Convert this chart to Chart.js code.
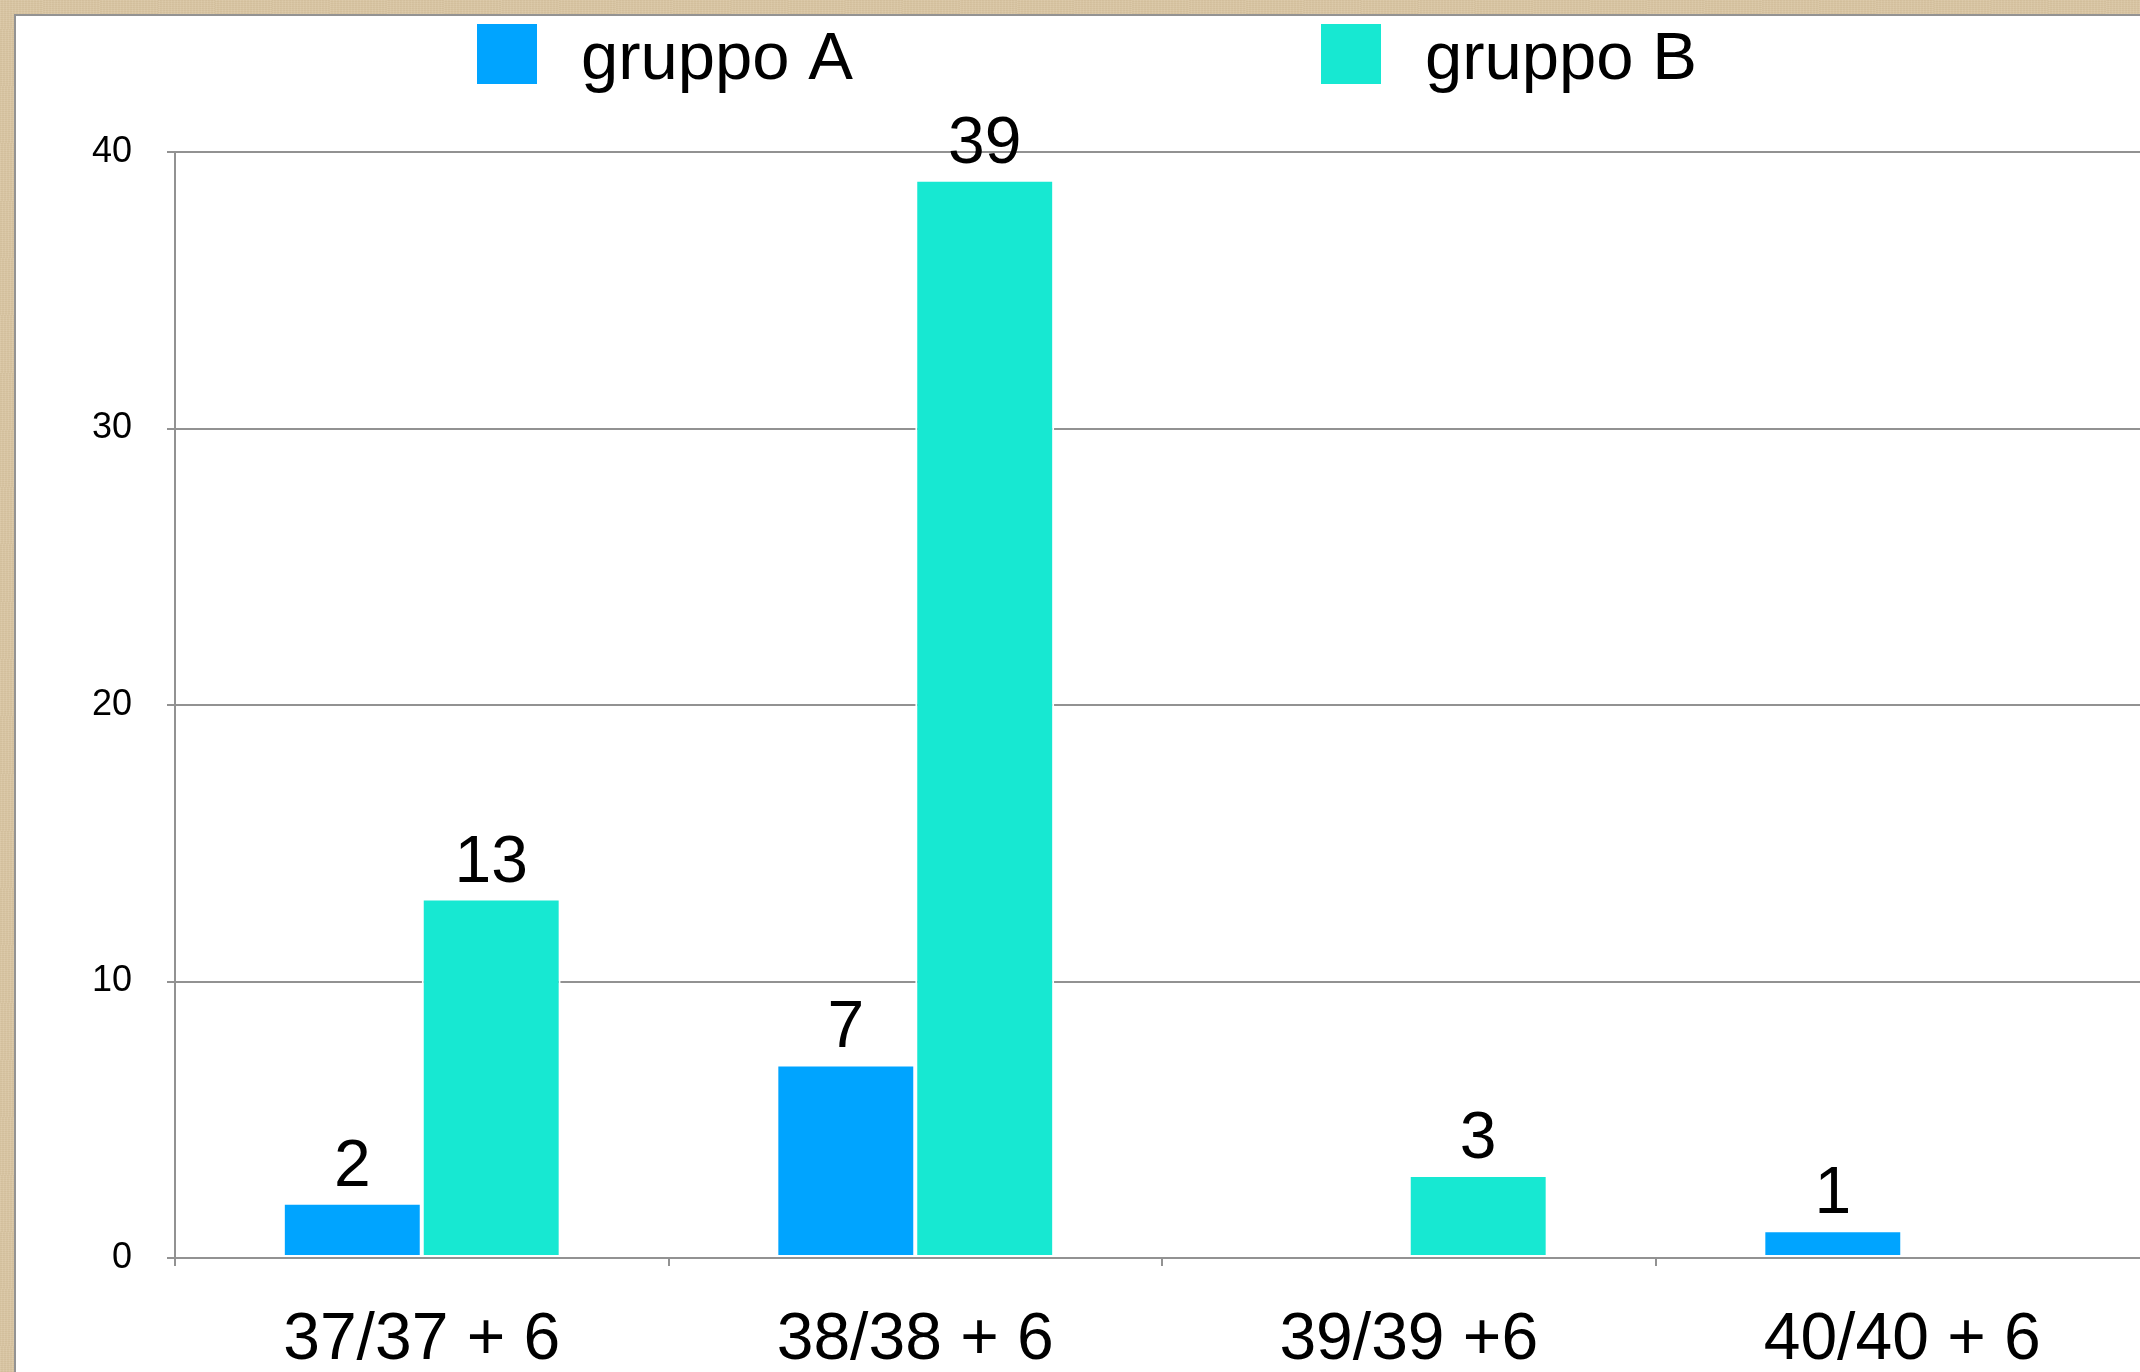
<!DOCTYPE html>
<html>
<head>
<meta charset="utf-8">
<script src="https://cdn.jsdelivr.net/npm/chart.js@4/dist/chart.umd.min.js"></script>
<style>
  html, body { margin: 0; padding: 0; width: 2140px; height: 1372px; overflow: hidden; }
  body {
    background-color: #dac6a4;
    background-image:
      repeating-linear-gradient(91deg, rgba(255,255,255,0.035) 0 1px, rgba(110,80,40,0.03) 1px 3px),
      repeating-linear-gradient(1deg, rgba(110,80,40,0.03) 0 1px, rgba(255,255,255,0.03) 1px 2px);
  }
  #sheet {
    position: absolute; left: 14px; top: 14px; width: 2200px; height: 1420px;
    background: #fff; border-top: 2px solid #939393; border-left: 2px solid #939393;
  }
  #chart { position: absolute; left: 0; top: 0; }
</style>
</head>
<body>
<div id="sheet"></div>
<canvas id="chart" width="2160" height="1372"></canvas>
<script>
// Categories and the two groups' counts
const categories = ['37/37 + 6', '38/38 + 6', '39/39 +6', '40/40 + 6'];
const gruppoA = [2, 7, null, 1];
const gruppoB = [13, 39, 3, null];
const seriesNames = ['gruppo A', 'gruppo B'];
const yTicks = [0, 10, 20, 30, 40];

const COLORS = ['#00a4ff', '#17e8d2'];
const FONT = "'Liberation Sans', Arial, Helvetica, sans-serif";
const GRID = '#929292';

// Legend row drawn across the top of the sheet
const LEGEND = { left: 477, step: 844, boxTop: 24, box: 60, textGap: 104, baseline: 79, size: 67 };
const legendRow = {
  id: 'legendRow',
  afterDraw(chart) {
    const { ctx } = chart;
    ctx.save();
    ctx.font = `${LEGEND.size}px ${FONT}`;
    ctx.textAlign = 'left';
    ctx.textBaseline = 'alphabetic';
    chart.data.datasets.forEach((ds, i) => {
      const x = LEGEND.left + i * LEGEND.step;
      ctx.fillStyle = ds.backgroundColor;
      ctx.fillRect(x, LEGEND.boxTop, LEGEND.box, LEGEND.box);
      ctx.fillStyle = '#000';
      ctx.fillText(ds.label, x + LEGEND.textGap, LEGEND.baseline);
    });
    ctx.restore();
  }
};

// Count printed above each bar
const valueLabels = {
  id: 'valueLabels',
  afterDatasetsDraw(chart) {
    const { ctx } = chart;
    ctx.save();
    ctx.font = `66px ${FONT}`;
    ctx.fillStyle = '#000';
    ctx.textAlign = 'center';
    ctx.textBaseline = 'alphabetic';
    chart.data.datasets.forEach((ds, i) => {
      chart.getDatasetMeta(i).data.forEach((bar, j) => {
        const v = ds.data[j];
        if (v === null || v === undefined) return;
        ctx.fillText(String(v), bar.x, bar.y - 17);
      });
    });
    ctx.restore();
  }
};

Chart.defaults.font.family = FONT;
Chart.defaults.color = '#000';

new Chart(document.getElementById('chart'), {
  type: 'bar',
  data: {
    labels: categories,
    datasets: [
      { label: seriesNames[0], data: gruppoA, backgroundColor: COLORS[0] },
      { label: seriesNames[1], data: gruppoB, backgroundColor: COLORS[1] }
    ]
  },
  options: {
    responsive: false,
    animation: false,
    layout: { padding: { top: 152, left: 0, right: 11, bottom: 0 } },
    datasets: {
      bar: {
        categoryPercentage: 0.563,
        barPercentage: 1.0,
        borderColor: '#ffffff',
        borderWidth: 2,
        borderSkipped: false
      }
    },
    plugins: {
      legend: { display: false },
      tooltip: { enabled: false },
      title: { display: false }
    },
    scales: {
      x: {
        offset: true,
        grid: { display: true, drawOnChartArea: false, drawTicks: true, tickLength: 8, color: GRID, lineWidth: 2 },
        border: { display: true, color: GRID, width: 2, z: 1 },
        ticks: { font: { size: 66 }, color: '#000', padding: 35, maxRotation: 0, autoSkip: false },
        afterFit(scale) { scale.height = 114; }
      },
      y: {
        min: 0,
        max: 40,
        afterBuildTicks(scale) { scale.ticks = yTicks.map(v => ({ value: v })); },
        grid: { color: GRID, lineWidth: 2, tickLength: 8, drawTicks: true },
        border: { display: true, color: GRID, width: 2, z: 1 },
        ticks: { font: { size: 36 }, color: '#000', padding: 35 },
        afterFit(scale) { scale.width = 175; }
      }
    }
  },
  plugins: [legendRow, valueLabels]
});
</script>
</body>
</html>
